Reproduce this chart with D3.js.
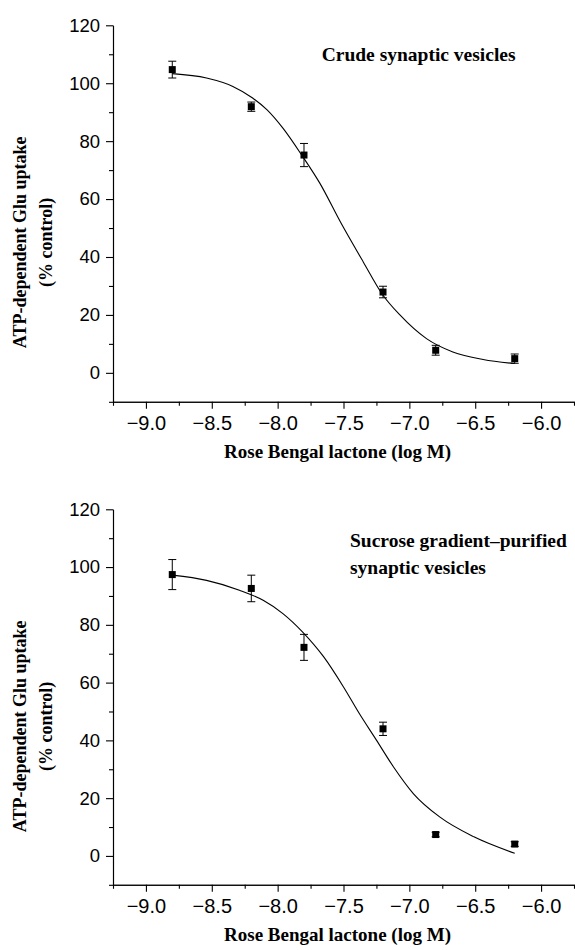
<!DOCTYPE html>
<html>
<head>
<meta charset="utf-8">
<script src="https://cdn.jsdelivr.net/npm/d3@7"></script>
<style>
  body { margin: 0; background: #fff; }
  .tick text { font-family: "Liberation Sans", Arial, sans-serif; fill: #000; }
  .lbl { font-family: "Liberation Serif", "Times New Roman", serif; font-weight: bold; fill: #000; }
</style>
</head>
<body>
<div id="chart"></div>
<script>
// dose response, two panels
var concentrations = [-8.8, -8.2, -7.8, -7.2, -6.8, -6.2];

var crudeUptake = [104.7, 91.9, 75.2, 27.9, 7.8, 4.9];
var crudeError = [2.9, 1.6, 4.0, 2.0, 1.7, 1.6];
var crudeFitX = [-8.8, -8.54, -8.34, -8.19, -8.08, -7.96, -7.81, -7.68, -7.52, -7.35, -7.2, -7.07, -6.87, -6.67, -6.44, -6.2];
var crudeFitY = [103.3, 101.8, 98.9, 94.9, 90.8, 84.5, 74.7, 65.5, 51.8, 38.3, 26.8, 19.9, 11.8, 7.2, 4.6, 3.2];

var sucroseUptake = [97.4, 92.6, 72.2, 44.0, 7.4, 4.1];
var sucroseError = [5.2, 4.6, 4.5, 2.3, 0.8, 0.8];
var sucroseFitX = [-8.8, -8.54, -8.29, -8.11, -7.96, -7.81, -7.65, -7.5, -7.38, -7.25, -7.12, -6.97, -6.77, -6.51, -6.2];
var sucroseFitY = [97.2, 95.4, 92.0, 88.5, 83.9, 77.5, 68.9, 58.5, 49.3, 40.1, 30.8, 21.6, 13.5, 6.6, 0.9];

var xMajorTicks = [-9.0, -8.5, -8.0, -7.5, -7.0, -6.5, -6.0];
var xMinorTicks = [-9.25, -8.75, -8.25, -7.75, -7.25, -6.75, -6.25, -5.75];
var yMajorTicks = [0, 20, 40, 60, 80, 100, 120];
var yMinorTicks = [-10, 10, 30, 50, 70, 90, 110];

var xTitle = "Rose Bengal lactone (log M)";
var yTitle = ["ATP-dependent Glu uptake", "(% control)"];

var svg = d3.select("#chart").append("svg")
  .attr("width", 575)
  .attr("height", 950);

function drawPanel(opt) {
  var x = d3.scaleLinear().domain([-9.25, -5.75]).range([113, 574]);
  var y = d3.scaleLinear().domain([-10, 120]).range([opt.bottom, opt.top]);
  var g = svg.append("g");

  // axes: minor ticks first, then labelled majors
  g.append("g")
    .attr("transform", "translate(0," + opt.bottom + ")")
    .call(d3.axisBottom(x).tickValues(xMinorTicks).tickSize(4).tickSizeOuter(0).tickFormat(""));
  g.append("g")
    .attr("transform", "translate(0," + opt.bottom + ")")
    .call(d3.axisBottom(x).tickValues(xMajorTicks).tickSize(7).tickPadding(7).tickSizeOuter(0)
      .tickFormat(d3.format(".1f")))
    .selectAll("text").style("font-size", "20px");

  g.append("g")
    .attr("transform", "translate(113,0)")
    .call(d3.axisLeft(y).tickValues(yMinorTicks).tickSize(4).tickSizeOuter(0).tickFormat(""));
  g.append("g")
    .attr("transform", "translate(113,0)")
    .call(d3.axisLeft(y).tickValues(yMajorTicks).tickSize(7).tickPadding(6).tickSizeOuter(0))
    .selectAll("text").style("font-size", "18.5px");

  g.selectAll(".domain, .tick line").attr("stroke", "#000").attr("stroke-width", 1.1);

  // fitted curve
  var fit = opt.fitX.map(function(d, i) { return [d, opt.fitY[i]]; });
  g.append("path")
    .datum(fit)
    .attr("fill", "none")
    .attr("stroke", "#000")
    .attr("stroke-width", 1.1)
    .attr("d", d3.line()
      .x(function(d) { return x(d[0]); })
      .y(function(d) { return y(d[1]); })
      .curve(d3.curveMonotoneX));

  // error bars + squares
  var pts = concentrations.map(function(c, i) {
    return { c: c, v: opt.values[i], e: opt.errors[i] };
  });
  var bars = g.append("g").selectAll("g").data(pts).enter().append("g");
  bars.append("line")
    .attr("x1", function(d) { return x(d.c); }).attr("x2", function(d) { return x(d.c); })
    .attr("y1", function(d) { return y(d.v - d.e); }).attr("y2", function(d) { return y(d.v + d.e); })
    .attr("stroke", "#000");
  [-1, 1].forEach(function(s) {
    bars.append("line")
      .attr("x1", function(d) { return x(d.c) - 4; }).attr("x2", function(d) { return x(d.c) + 4; })
      .attr("y1", function(d) { return y(d.v + s * d.e); }).attr("y2", function(d) { return y(d.v + s * d.e); })
      .attr("stroke", "#000");
  });
  bars.append("rect")
    .attr("x", function(d) { return x(d.c) - 3.5; })
    .attr("y", function(d) { return y(d.v) - 3.5; })
    .attr("width", 7).attr("height", 7)
    .attr("fill", "#000");

  // labels
  g.append("text").attr("class", "lbl")
    .attr("x", 337.5).attr("y", opt.bottom + 56)
    .attr("text-anchor", "middle")
    .style("font-size", "19px")
    .text(xTitle);

  var yc = opt.top + 217;
  yTitle.forEach(function(t, i) {
    g.append("text").attr("class", "lbl")
      .attr("transform", "translate(" + (26 + i * 26) + "," + yc + ") rotate(-90)")
      .attr("text-anchor", "middle")
      .style("font-size", "18px")
      .text(t);
  });

  opt.title.forEach(function(t, i) {
    g.append("text").attr("class", "lbl")
      .attr("x", opt.titleX).attr("y", opt.titleY + i * 27)
      .style("font-size", "19.5px")
      .text(t);
  });
}

drawPanel({
  top: 25.3, bottom: 401.8,
  values: crudeUptake, errors: crudeError,
  fitX: crudeFitX, fitY: crudeFitY,
  title: ["Crude synaptic vesicles"], titleX: 321.7, titleY: 60.5
});

drawPanel({
  top: 509.3, bottom: 884.8,
  values: sucroseUptake, errors: sucroseError,
  fitX: sucroseFitX, fitY: sucroseFitY,
  title: ["Sucrose gradient\u2013purified", "synaptic vesicles"], titleX: 350, titleY: 547.3
});
</script>
</body>
</html>
